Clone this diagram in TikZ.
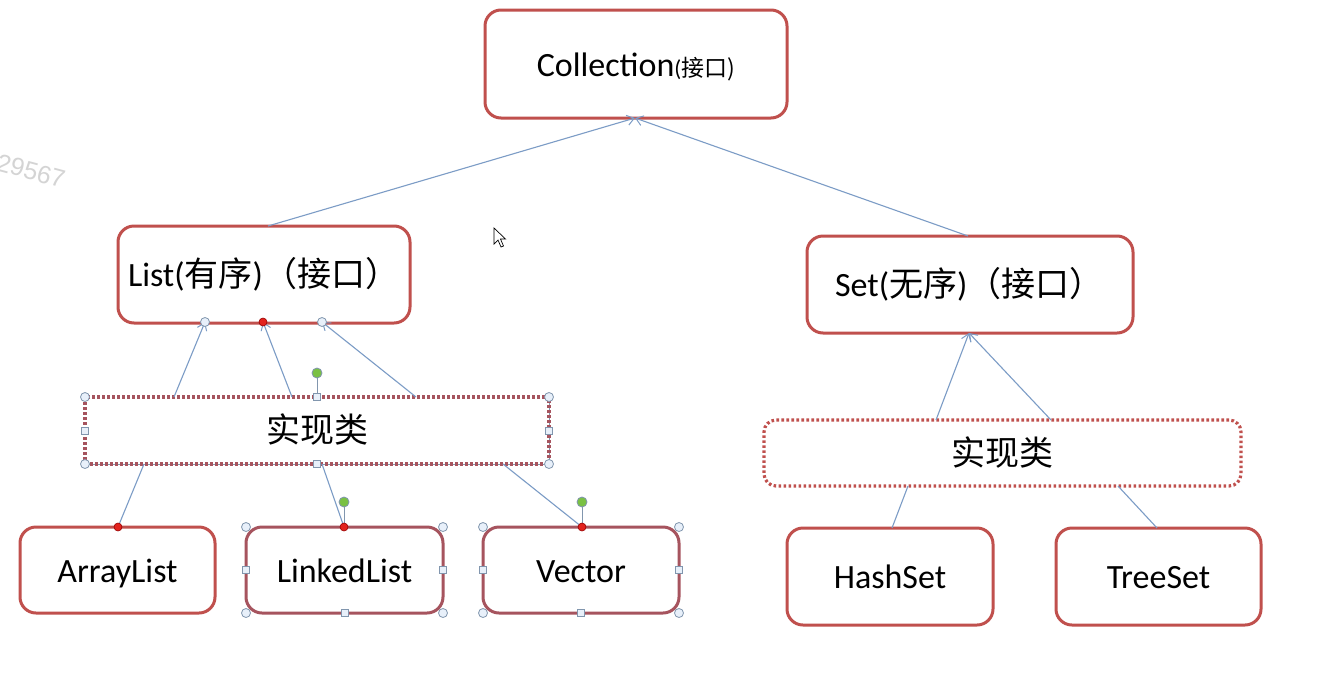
\documentclass[tikz,border=0pt]{standalone}
\usepackage{fontspec}
\setmainfont{Carlito}
\newfontfamily\cjk{Noto Sans CJK SC}
\newfontfamily\wmfont{Liberation Sans}
\usetikzlibrary{arrows.meta}
\definecolor{boxred}{HTML}{C0504D}
\definecolor{selred}{HTML}{A6545E}
\definecolor{conn}{HTML}{7C9CC6}
\definecolor{hfill}{HTML}{E8F0FA}
\definecolor{hdraw}{HTML}{8196AE}
\definecolor{rotg}{HTML}{7AC143}
\definecolor{dotred}{HTML}{E2231E}
\definecolor{wm}{HTML}{D4D4D4}
\begin{document}
\begin{tikzpicture}[x=1pt,y=-1pt,
  big/.style={font=\fontsize{34}{40}\selectfont,text height=25pt,text depth=1pt},
  box/.style={draw=boxred,line width=3pt,rounded corners=16pt,fill=white,inner sep=0pt,big},
  selbox/.style={box,draw=selred},
  dotbox/.style={draw=boxred,line width=3.2pt,dash pattern=on 2.6pt off 2.4pt,rounded corners=12pt,fill=white,inner sep=0pt,big},
  conn/.style={draw=conn,line width=1.1pt},
  arr/.style={conn,-{Straight Barb[length=7pt,width=10pt,line width=1pt]}},
  hcirc/.style={circle,draw=hdraw,fill=hfill,line width=0.8pt,minimum size=9pt,inner sep=0pt},
  hsq/.style={rectangle,draw=hdraw,fill=hfill,line width=0.8pt,minimum size=7pt,inner sep=0pt},
  rothandle/.style={circle,draw=hdraw,fill=rotg,line width=0.8pt,minimum size=10pt,inner sep=0pt},
  rdot/.style={circle,draw=red!60!black,fill=dotred,line width=0.6pt,minimum size=8pt,inner sep=0pt},
  stem/.style={draw=hdraw,line width=1pt}
]
\fill[white] (0,0) rectangle (1330,686);
\useasboundingbox (0,0) rectangle (1330,686);

% watermark and cursor
\node[text=wm,rotate=-15,font=\wmfont\fontsize{25}{28}\selectfont] (wmark) at (31,171) {29567};
\filldraw[fill=white,draw=black,line width=0.7pt] (494,228) -- (494,244) -- (498,240) -- (501,247) -- (503.5,246) -- (500.5,239) -- (505.5,239) -- cycle;

% boxes
\node[box,minimum width=302pt,minimum height=108pt] (coll) at (636,64) {Collection{\fontsize{23}{26}\selectfont(\cjk 接口)}};
\node[box,minimum width=292pt,minimum height=97pt,text width=272pt,inner xsep=10pt,align=left] (list) at (264,274.5) {List({\cjk 有序}){\cjk （接口）}};
\node[box,minimum width=326pt,minimum height=97pt,text width=270pt,inner xsep=28pt,align=left] (set) at (970,284.5) {Set({\cjk 无序}){\cjk （接口）}};

\draw[draw=hdraw,line width=1pt] (85,397) rectangle (549,464);
\node[dotbox,draw=selred,rounded corners=0pt,minimum width=464pt,minimum height=67pt] (implL) at (317,430.5) {\cjk 实现类};
\node[dotbox,minimum width=477pt,minimum height=66pt] (implR) at (1002.5,453) {\cjk 实现类};

\node[box,minimum width=195pt,minimum height=86pt] (arr) at (117.5,570) {ArrayList};
\node[selbox,minimum width=197pt,minimum height=86pt] (linked) at (344.5,570) {LinkedList};
\node[selbox,minimum width=196pt,minimum height=86pt] (vec) at (581,570) {Vector};
\node[box,minimum width=206pt,minimum height=97pt] (hash) at (890,576.5) {HashSet};
\node[box,minimum width=205pt,minimum height=97pt] (tree) at (1158.5,576.5) {TreeSet};

% attachment points
\coordinate (collB) at (635,118);
\coordinate (listT) at (268,226);
\coordinate (setT) at (968,236);
\coordinate (lb1) at (205,322);
\coordinate (lb2) at (263,322);
\coordinate (lb3) at (322,322);
\coordinate (it1) at (174,397);
\coordinate (it2) at (292,397);
\coordinate (it3) at (416,397);
\coordinate (ib1) at (144,464);
\coordinate (ib2) at (322,464);
\coordinate (ib3) at (503,464);
\coordinate (arrT) at (118,527);
\coordinate (linkT) at (344,527);
\coordinate (vecT) at (582,527);
\coordinate (setB) at (969,333);
\coordinate (rt1) at (936,420);
\coordinate (rt2) at (1051,420);
\coordinate (rb1) at (908,486);
\coordinate (rb2) at (1118,486);
\coordinate (hashT) at (892,528);
\coordinate (treeT) at (1157,528);

% connectors
\draw[arr] (listT) -- (collB);
\draw[arr] (setT) -- (collB);
\draw[arr] (it1) -- (lb1);
\draw[arr] (it2) -- (lb2);
\draw[arr] (it3) -- (lb3);
\draw[arr] (rt1) -- (setB);
\draw[arr] (rt2) -- (setB);
\draw[conn] (ib1) -- (arrT);
\draw[conn] (ib2) -- (linkT);
\draw[conn] (ib3) -- (vecT);
\draw[conn] (rb1) -- (hashT);
\draw[conn] (rb2) -- (treeT);

% list connection handles
\node[hcirc] (hl1) at (lb1) {};
\node[rdot] (hl2) at (lb2) {};
\node[hcirc] (hl3) at (lb3) {};

% implementation box handles
\draw[stem] (317,397) -- (317,373);
\node[rothandle] (ir) at (317,373) {};
\node[hcirc] (ic1) at (85,397) {};
\node[hcirc] (ic2) at (549,397) {};
\node[hcirc] (ic3) at (85,464) {};
\node[hcirc] (ic4) at (549,464) {};
\node[hsq] (is1) at (317,397) {};
\node[hsq] (is2) at (317,464) {};
\node[hsq] (is3) at (85,430.5) {};
\node[hsq] (is4) at (549,430.5) {};

% LinkedList handles
\draw[stem] (344,527) -- (344,502);
\node[rothandle] (lr) at (344,502) {};
\node[hcirc] (lc1) at (246,527) {};
\node[hcirc] (lc2) at (443,527) {};
\node[hcirc] (lc3) at (246,613) {};
\node[hcirc] (lc4) at (443,613) {};
\node[hsq] (ls1) at (344.5,613) {};
\node[hsq] (ls2) at (246,570) {};
\node[hsq] (ls3) at (443,570) {};

% Vector handles
\draw[stem] (582,527) -- (582,502);
\node[rothandle] (vr) at (582,502) {};
\node[hcirc] (vc1) at (483,527) {};
\node[hcirc] (vc2) at (679,527) {};
\node[hcirc] (vc3) at (483,613) {};
\node[hcirc] (vc4) at (679,613) {};
\node[hsq] (vs1) at (581,613) {};
\node[hsq] (vs2) at (483,570) {};
\node[hsq] (vs3) at (679,570) {};

% red connection dots
\node[rdot] (d1) at (arrT) {};
\node[rdot] (d2) at (linkT) {};
\node[rdot] (d3) at (vecT) {};
\end{tikzpicture}
\end{document}
